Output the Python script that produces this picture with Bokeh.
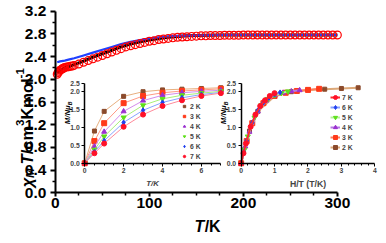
import math
from bokeh.plotting import figure
from bokeh.models import (Range1d, LinearAxis, FixedTicker, NumeralTickFormatter,
                          Label, Legend, LegendItem)
from bokeh.embed import file_html
from bokeh.resources import INLINE

FONT = "Liberation Sans"

# ---------------- main data: chi_M T vs T ----------------
T_exp = [2, 3, 4, 5, 6, 7, 8, 9, 10, 12, 14, 16, 18, 20, 25, 30, 35, 40, 45, 50,
         55, 60, 65, 70, 75, 80, 85, 90, 95, 100, 105, 110, 115, 120, 125, 130,
         135, 140, 145, 150, 155, 160, 165, 170, 175, 180, 185, 190, 195, 200,
         205, 210, 215, 220, 225, 230, 235, 240, 245, 250, 255, 260, 265, 270,
         275, 280, 285, 290, 295, 300]
chiT_exp = [2.09, 2.12, 2.14, 2.16, 2.17, 2.18, 2.19, 2.20, 2.21, 2.215, 2.22, 2.23,
            2.235, 2.245, 2.27, 2.30, 2.33, 2.36, 2.39, 2.42, 2.45, 2.48, 2.51,
            2.54, 2.57, 2.59, 2.61, 2.63, 2.65, 2.67, 2.68, 2.70, 2.71, 2.72, 2.73,
            2.74, 2.745, 2.75, 2.755, 2.76, 2.765, 2.765, 2.77, 2.77, 2.77, 2.775,
            2.775, 2.775, 2.775, 2.78, 2.78, 2.78, 2.78, 2.78, 2.78, 2.78, 2.78,
            2.78, 2.78, 2.78, 2.78, 2.78, 2.78, 2.78, 2.78, 2.78, 2.78, 2.78, 2.78,
            2.78]

T_fit = [2, 5, 10, 15, 20, 30, 40, 50, 60, 70, 80, 90, 100, 110, 120, 130, 140,
         150, 175, 200, 250, 300]
chiT_fit_black = [2.12, 2.16, 2.20, 2.23, 2.26, 2.32, 2.39, 2.45, 2.51, 2.57, 2.62,
                  2.66, 2.69, 2.72, 2.74, 2.755, 2.765, 2.77, 2.78, 2.78, 2.78, 2.78]
chiT_fit_blue = [2.30, 2.315, 2.33, 2.35, 2.37, 2.42, 2.47, 2.52, 2.57, 2.62, 2.66,
                 2.69, 2.72, 2.74, 2.755, 2.765, 2.77, 2.775, 2.78, 2.78, 2.78, 2.78]

x_ticks = [0, 100, 200, 300]
x_minor = [25, 50, 75, 125, 150, 175, 225, 250, 275]
y_ticks = [0.0, 0.4, 0.8, 1.2, 1.6, 2.0, 2.4, 2.8, 3.2]
y_minor = [0.2, 0.6, 1.0, 1.4, 1.8, 2.2, 2.6, 3.0]

# ---------------- inset data: M vs H ----------------
H_field = [0, 0.5, 1, 2, 3, 4, 5, 6, 7]
temps = [2, 3, 4, 5, 6, 7]
temp_labels = ["2 K", "3 K", "4 K", "5 K", "6 K", "7 K"]
M_2K = [0, 0.90, 1.45, 1.87, 2.00, 2.05, 2.07, 2.09, 2.11]
M_3K = [0, 0.62, 1.12, 1.68, 1.88, 1.97, 2.02, 2.05, 2.08]
M_4K = [0, 0.47, 0.88, 1.45, 1.75, 1.90, 1.97, 2.01, 2.04]
M_5K = [0, 0.38, 0.75, 1.28, 1.62, 1.80, 1.90, 1.96, 2.01]
M_6K = [0, 0.32, 0.63, 1.14, 1.48, 1.70, 1.83, 1.92, 1.98]
M_7K = [0, 0.28, 0.55, 1.02, 1.36, 1.60, 1.76, 1.88, 1.96]
M_all = [M_2K, M_3K, M_4K, M_5K, M_6K, M_7K]

inset_x1_ticks = [0, 2, 4, 6]
inset_x1_minor = [0.5, 1, 1.5, 2.5, 3, 3.5, 4.5, 5, 5.5, 6.5, 7]
inset_x2_ticks = [0, 1, 2, 3, 4]
inset_x2_minor = [0.2, 0.4, 0.6, 0.8, 1.2, 1.4, 1.6, 1.8, 2.2, 2.4, 2.6, 2.8,
                  3.2, 3.4, 3.6, 3.8]
inset_y_ticks = [0.0, 0.5, 1.0, 1.5, 2.0, 2.22]

marker_colors = ["#8b4a2b", "#ff3a1a", "#9b30d0", "#5ee01a", "#1f3ff0", "#ff1028"]
light1 = ["#e8b080", "#ff9a86", "#d48cec", "#a8f07a", "#88a4ff", "#ff8a9a"]
light2 = ["#dca878", "#ff7a5a", "#b878e4", "#b6f29a", "#8aa2ff", "#ff2a2a"]
markers = ["square", "square", "triangle", "inverted_triangle", "diamond", "circle"]
msizes = [4, 5, 5, 5, 5, 5]

# canvas fits the 386x243 window minus the 8px page margin
W, H = 378, 235
KX, KY = W / 386, H / 243
KF = 0.97

def fs(px):
    return f"{px * KF:.1f}px"

# The frame covers the whole canvas; every axis sits at a fixed data location.
p = figure(width=W, height=H, output_backend="svg", toolbar_location=None,
           x_range=Range1d(-58.333, 343.75), y_range=Range1d(-0.7489, 3.3872),
           x_axis_location=None, y_axis_location=None,
           min_border_left=0, min_border_right=0, min_border_top=0,
           min_border_bottom=0)
p.outline_line_color = None
p.grid.visible = False
p.background_fill_color = "white"
p.border_fill_color = "white"

p.extra_x_ranges = {"i1x": Range1d(-4.3303, 15.106), "i2x": Range1d(-7.1947, 4.1083)}
p.extra_y_ranges = {"iy": Range1d(-2.0189, 4.5486)}

def style_main(ax):
    ax.axis_line_width = 2
    ax.axis_line_color = "black"
    ax.major_tick_line_width = 2
    ax.major_tick_line_color = "black"
    ax.minor_tick_line_width = 1.5
    ax.minor_tick_line_color = "black"
    ax.major_tick_in = 0
    ax.minor_tick_in = 0
    ax.major_label_text_font = FONT
    ax.major_label_text_font_style = "bold"
    ax.major_label_text_font_size = fs(16)
    ax.major_label_text_color = "black"

xa = LinearAxis(fixed_location=0, bounds=(0, 300),
                ticker=FixedTicker(ticks=x_ticks, minor_ticks=x_minor))
style_main(xa)
xa.major_tick_out = 4
xa.minor_tick_out = 3
xa.major_label_standoff = 1
p.add_layout(xa, "below")

ya = LinearAxis(fixed_location=0, bounds=(0, 3.2),
                ticker=FixedTicker(ticks=y_ticks, minor_ticks=y_minor))
style_main(ya)
ya.formatter = NumeralTickFormatter(format="0.0")
ya.major_tick_out = 5
ya.minor_tick_out = 3
ya.major_label_standoff = 4
p.add_layout(ya, "left")

# main curves
p.line(T_fit, chiT_fit_black, line_color="black", line_width=3)
p.line(T_fit, chiT_fit_blue, line_color="#2040ff", line_width=2.2)
p.scatter(T_exp, chiT_exp, marker="circle", size=7.8, fill_color=None,
          line_color="#ff0000", line_width=1.2)

# inset axes
def inset_axis(xr, bounds, ticks, minor, label, label_style, label_size):
    a = LinearAxis(x_range_name=xr, y_range_name="iy", fixed_location=0,
                   bounds=bounds, ticker=FixedTicker(ticks=ticks, minor_ticks=minor))
    a.axis_line_width = 1.5
    a.major_tick_line_width = 1
    a.minor_tick_line_width = 1
    a.major_tick_in = 0
    a.minor_tick_in = 0
    a.major_tick_out = 3
    a.minor_tick_out = 2
    a.major_label_standoff = 2
    a.major_label_text_font = FONT
    a.major_label_text_font_style = "bold"
    a.major_label_text_font_size = fs(7)
    a.axis_label = label
    a.axis_label_text_font = FONT
    a.axis_label_text_font_style = label_style
    a.axis_label_text_font_size = fs(label_size)
    a.axis_label_standoff = 2
    p.add_layout(a, "below")

def inset_yaxis(xr):
    a = LinearAxis(x_range_name=xr, y_range_name="iy", fixed_location=0,
                   bounds=(0, 2.222), ticker=FixedTicker(ticks=inset_y_ticks))
    a.formatter = NumeralTickFormatter(format="0.0")
    a.major_label_overrides = {2.22: "2.5"}
    a.axis_line_width = 1.5
    a.major_tick_line_width = 1
    a.major_tick_in = 0
    a.major_tick_out = 3
    a.major_label_standoff = 2
    a.major_label_text_font = FONT
    a.major_label_text_font_style = "bold"
    a.major_label_text_font_size = fs(7)
    p.add_layout(a, "left")

inset_axis("i1x", (0, 7), inset_x1_ticks, inset_x1_minor, "T/K", "bold italic", 8)
inset_axis("i2x", (0, 4), inset_x2_ticks, inset_x2_minor, "H/T (T/K)", "bold", 9)
inset_yaxis("i1x")
inset_yaxis("i2x")

# inset 1 : M vs H
items1 = []
for M, lc, mc, mk, ms, lbl in zip(M_all, light1, marker_colors, markers, msizes, temp_labels):
    p.line(H_field, M, x_range_name="i1x", y_range_name="iy", line_color=lc, line_width=1)
    r = p.scatter(H_field, M, x_range_name="i1x", y_range_name="iy", marker=mk,
                  size=ms, fill_color=mc, line_color=mc)
    items1.append(LegendItem(label=lbl, renderers=[r]))

# inset 2 : M vs H/T
items2 = []
for T, M, lc, mc, mk, ms, lbl in zip(temps, M_all, light2, marker_colors, markers, msizes, temp_labels):
    HT = [h / T for h in H_field]
    rl = p.line(HT, M, x_range_name="i2x", y_range_name="iy", line_color=lc, line_width=2)
    rs = p.scatter(HT, M, x_range_name="i2x", y_range_name="iy", marker=mk,
                   size=ms, fill_color=mc, line_color=mc)
    items2.append(LegendItem(label=lbl, renderers=[rl, rs]))
items2 = items2[::-1]

def make_legend(items, loc, gw, standoff):
    lg = Legend(items=items, location=loc, glyph_width=gw, glyph_height=10,
                label_height=10, spacing=0, padding=0, margin=0,
                label_standoff=standoff, label_text_font=FONT,
                label_text_font_style="bold", label_text_font_size=fs(7),
                background_fill_alpha=0, border_line_alpha=0)
    p.add_layout(lg)

make_legend(items1, (round(185 * KX), 74), 6, 3)
make_legend(items2, (round(337 * KX), 83), 10, 2)

# text labels: positions in reference pixels from the bottom-left corner, scaled
def lab(text, x, y, size, style="bold", angle=0.0, baseline="alphabetic"):
    p.add_layout(Label(x=x * KX, y=y * KY, x_units="screen", y_units="screen",
                       text=text, text_font=FONT, text_font_size=fs(size),
                       text_font_style=style, angle=angle, text_align="left",
                       text_baseline=baseline, text_color="black"))

R = math.pi / 2
# main y label: chi_M T/cm^3 K mol^-1
lab("χ", 27, 50, 17, "bold italic", R)
lab("M", 30, 59.5, 12, "bold italic", R)
lab("T", 27, 73.5, 17, "bold italic", R)
lab("/cm", 27, 83.9, 17, "bold", R)
lab("3", 20, 113.2, 12, "bold", R)
lab("Kmol", 27, 119.9, 17, "bold", R)
lab("-1", 20, 162.4, 12, "bold", R)
# main x label (anchored at its top edge)
lab("T", 198, 18.6, 16.5, "bold italic", baseline="top")
lab("/K", 208.5, 18.6, 16.5, "bold", baseline="top")
# inset y labels
for bx in (68.5, 228):
    lab("M/Nμ", bx, 115, 8, "bold italic", R)
    lab("B", bx + 2, 134.6, 5.5, "bold italic", R)

open("out.html", "w").write(file_html(p, INLINE))
